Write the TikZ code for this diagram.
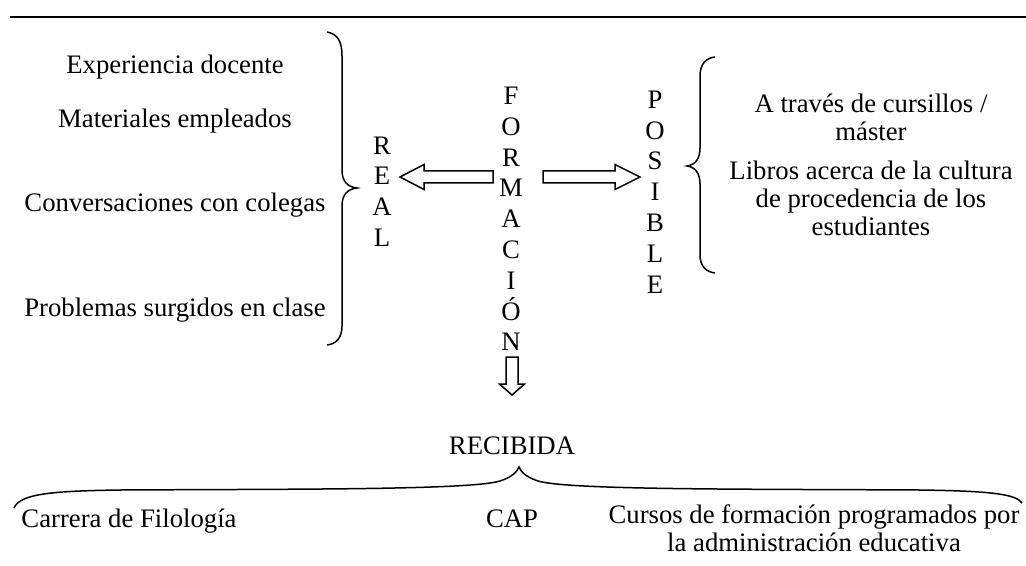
\documentclass[tikz,border=0pt]{standalone}
\usepackage{fontspec}
\setmainfont{Liberation Serif}
\usepackage{tikz}
\usetikzlibrary{arrows}

% hollow block arrow: tail coordinate, direction, length, head length
\newcommand{\blockarrow}[4]{%
    \draw[blockline, shift={(#1)}, rotate=#2]
        (0, -6) -- (#3-#4, -6) -- (#3-#4, -12.5) -- (#3, 0)
        -- (#3-#4, 12.5) -- (#3-#4, 6) -- (0, 6) -- cycle;}

\begin{document}
\begin{tikzpicture}[x=0.5pt, y=-0.5pt,
        every node/.style={font=\fontsize{13.35}{15.4}\selectfont, inner sep=0pt},
        letters/.style={align=center},
        lines/.style={align=center, font=\fontsize{13.35}{14}\selectfont},
        brace/.style={line width=0.75pt},
        blockline/.style={line width=0.75pt, line join=miter}]
        \useasboundingbox (0, 0) rectangle (1026, 566);
        \draw[line width=1pt] (10, 17) -- (1026, 17);

        % vertical words
        \node[letters] (formacion) at (511, 219) {F\\O\\R\\M\\A\\C\\I\\Ó\\N};
        \node[letters] (real) at (382, 191.5) {R\\E\\A\\L};
        \node[letters] (posible) at (655, 192) {P\\O\\S\\I\\B\\L\\E};
        \node (recibida) at (512, 446) {RECIBIDA};

        % arrows out of FORMACION
        \coordinate (realtail) at (493, 177);
        \coordinate (posibletail) at (543, 177);
        \coordinate (recibidatail) at (512, 357);
        \blockarrow{realtail}{180}{93}{24}
        \blockarrow{posibletail}{0}{97}{25}
        \blockarrow{recibidatail}{-90}{38}{11}

        % real
        \node[anchor=base] (experiencia) at (175, 74) {Experiencia docente};
        \node[anchor=base] (materiales) at (175, 128) {Materiales empleados};
        \node[anchor=base] (conversaciones) at (175, 212) {Conversaciones con colegas};
        \node[anchor=base] (problemas) at (175, 316) {Problemas surgidos en clase};
        \draw[brace] (327, 32) .. controls (338, 34) and (342, 42) .. (342, 56)
            -- (342, 170) .. controls (342, 182) and (348, 187) .. (357, 188)
            .. controls (348, 189) and (342, 194) .. (342, 206)
            -- (342, 326) .. controls (342, 338) and (336, 344) .. (327, 345);

        % posible
        \node[lines] (cursillos) at (871, 117) {A través de cursillos /\\máster};
        \node[lines] (libros) at (871, 198) {Libros acerca de la cultura\\de procedencia de los\\estudiantes};
        \draw[brace] (715, 57) .. controls (706, 58) and (700, 64) .. (700, 76)
            -- (700, 148) .. controls (700, 159) and (695, 165) .. (687, 166)
            .. controls (695, 167) and (700, 173) .. (700, 184)
            -- (700, 255) .. controls (700, 266) and (706, 272) .. (715, 273);

        % recibida
        \node[anchor=base] (carrera) at (129, 527) {Carrera de Filología};
        \node[anchor=base] (cap) at (512, 527) {CAP};
        \node[lines] (cursos) at (814, 528) {Cursos de formación programados por\\la administración educativa};
        \draw[brace] (14, 508) .. controls (20, 494) and (50, 491) .. (120, 490)
            .. controls (300, 489) and (470, 490) .. (500, 481)
            .. controls (512, 477) and (517, 472) .. (519, 467)
            .. controls (521, 472) and (526, 477) .. (538, 481)
            .. controls (568, 490) and (740, 489) .. (920, 490)
            .. controls (990, 491) and (1016, 494) .. (1022, 503);
\end{tikzpicture}
\end{document}
